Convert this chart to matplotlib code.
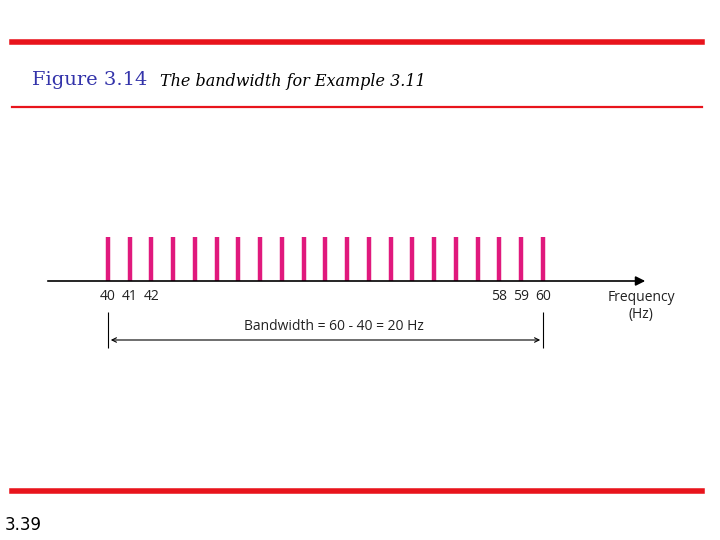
import matplotlib
matplotlib.use("Agg")
import matplotlib.pyplot as plt
from matplotlib.lines import Line2D

freqs = list(range(40, 61))
amps = [1.0] * len(freqs)
tick_labels = {40: "40", 41: "41", 42: "42", 58: "58", 59: "59", 60: "60"}
f_low, f_high = 40, 60

W, H = 720, 540
fig = plt.figure(figsize=(W/100, H/100), dpi=100)
ax = fig.add_axes([0, 0, 1, 1])
px_per_hz = (543 - 108) / 20
x0 = 40 - 108 / px_per_hz
ax.set_xlim(x0, x0 + W / px_per_hz)
ax.set_ylim((281 - 540) / 44, 281 / 44)
ax.axis("off")

def px(x):  # pixel x -> data
    return x0 + x / px_per_hz
def py(y):
    return (281 - y) / 44

ax.vlines(freqs, 0, amps, color="#e0197d", lw=3.2)
ax.annotate("", xy=(px(648), 0), xytext=(px(45), 0),
            arrowprops=dict(arrowstyle="-|>", color="black", lw=1.2, mutation_scale=14))
for f, t in tick_labels.items():
    ax.text(f, py(297), t, ha="center", va="center", fontsize=10, family="Open Sans", color="#222222")
ax.text(px(641), py(306), "Frequency\n(Hz)", ha="center", va="center", fontsize=10,
        family="Open Sans", color="#222222", linespacing=1.1)
ax.vlines([f_low, f_high], py(312), py(348), color="black", lw=0.8)
ax.annotate("", xy=(f_high, py(340)), xytext=(f_low, py(340)),
            arrowprops=dict(arrowstyle="<->", color="black", lw=0.8, mutation_scale=8))
ax.text(f_low + (f_high - f_low) * 0.52, py(327), f"Bandwidth = {f_high} - {f_low} = {f_high - f_low} Hz",
        ha="center", va="center", fontsize=10, family="Open Sans", color="#222222")

def hline(y, lw):
    fig.add_artist(Line2D([12/W, 702/W], [1 - y/H, 1 - y/H], color="#e8141c", lw=lw))
hline(42, 4)
hline(107, 1.6)
hline(491, 4)

fig.text(32/W, 1 - 80/H, "Figure 3.14", family="DejaVu Serif", fontsize=14, color="#3333aa",
         va="center", ha="left")
fig.text(160/W, 1 - 81/H, "The bandwidth for Example 3.11", family="DejaVu Serif", style="italic",
         fontsize=11.5, color="black", va="center", ha="left")
fig.text(5/W, 1 - 525/H, "3.39", family="DejaVu Sans", fontsize=12, va="center", ha="left")

fig.savefig("out.png", dpi=100)
